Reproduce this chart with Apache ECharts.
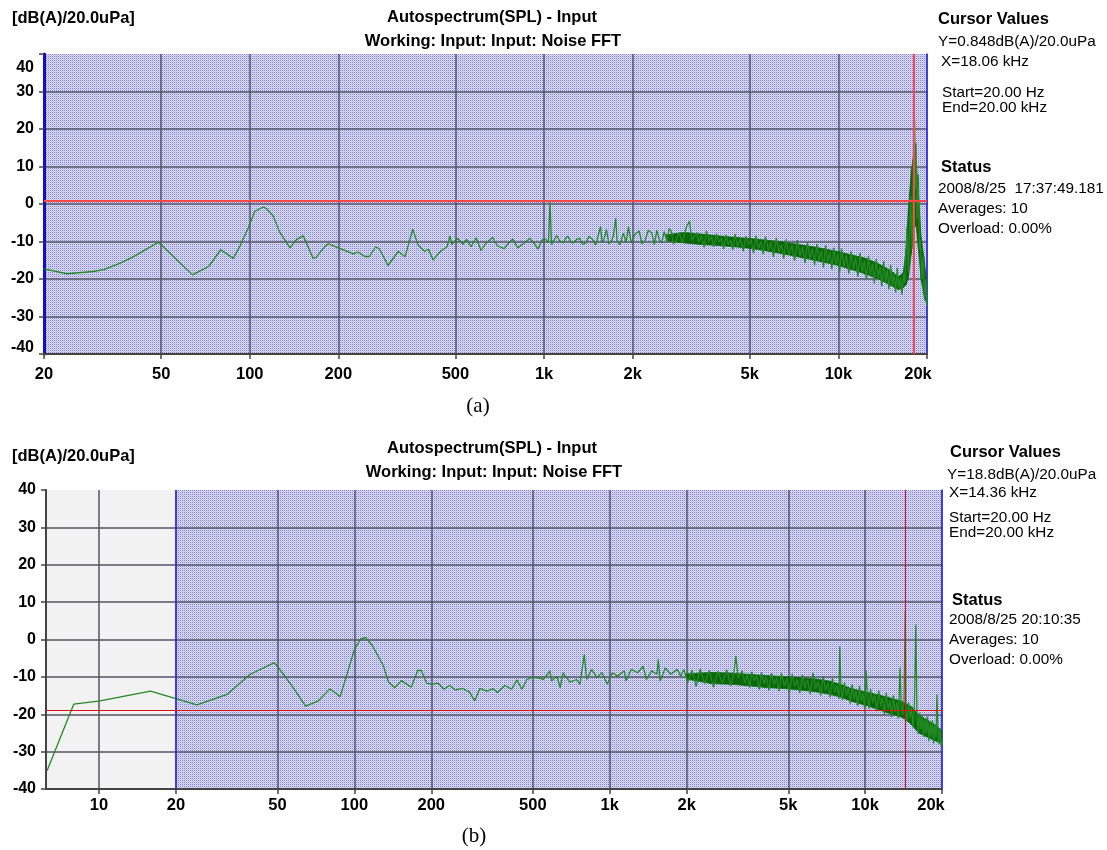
<!DOCTYPE html>
<html>
<head>
<meta charset="utf-8">
<script src="https://cdn.jsdelivr.net/npm/echarts@6/dist/echarts.min.js"></script>
<style>
  html, body { margin: 0; padding: 0; background: #fff; }
  #chart { width: 1107px; height: 850px; }
</style>
</head>
<body>
<div id="chart"></div>
<script>
// axis ticks
var tickFreqA = [20, 50, 100, 200, 500, 1000, 2000, 5000, 10000, 20000];
var tickTextA = ['20', '50', '100', '200', '500', '1k', '2k', '5k', '10k', '20k'];
var tickFreqB = [10, 20, 50, 100, 200, 500, 1000, 2000, 5000, 10000, 20000];
var tickTextB = ['10', '20', '50', '100', '200', '500', '1k', '2k', '5k', '10k', '20k'];

// cursors [Hz, dB]
var cursorA = [18060, 0.848];
var cursorB = [14360, -19.0];

var unitText = '[dB(A)/20.0uPa]';
var titleLines = ['Autospectrum(SPL) - Input', 'Working: Input: Input: Noise FFT'];
var infoA = ['Cursor Values', 'Y=0.848dB(A)/20.0uPa', 'X=18.06 kHz', 'Start=20.00 Hz', 'End=20.00 kHz',
  'Status', '2008/8/25  17:37:49.181', 'Averages: 10', 'Overload: 0.00%'];
var infoB = ['Cursor Values', 'Y=18.8dB(A)/20.0uPa', 'X=14.36 kHz', 'Start=20.00 Hz', 'End=20.00 kHz',
  'Status', '2008/8/25 20:10:35', 'Averages: 10', 'Overload: 0.00%'];

// (a) spectrum trace [Hz, dB]
var traceA = [
  [20, -17.3], [23.9, -18.6], [29.4, -18.0], [31.9, -17.5], [36, -15.9], [40.2, -14.1], [44, -12.3], [49, -10.2],
  [64, -18.9], [72.7, -16.6], [79.7, -12.2], [87.9, -14.5], [92.6, -11.3], [98.8, -6.4], [104, -2.0], [111, -0.8],
  [114, -1.2], [120, -3.1], [126, -7.3], [137, -11.7], [144, -9.5], [152, -8.5], [164, -14.4], [168, -14.3],
  [180, -11.3], [185, -10.6], [200, -11.7], [225, -13.3], [233, -12.8], [246, -14.0], [255, -14.0], [268, -11.4],
  [276, -12.0], [295, -16.4], [320, -12.6], [337, -14.1], [358, -6.7], [373, -10.9], [393, -12.6], [405, -12.1],
  [420, -14.9], [445, -12.6], [468, -11.4], [479, -8.5], [486, -10.8], [497, -9.9], [510, -9.2], [530, -10.8],
  [545, -9.4], [565, -11.4], [588, -9.0], [611, -12.4], [632, -10.6], [668, -8.9], [695, -11.2], [733, -11.9],
  [758, -10.4], [782, -9.3], [814, -11.7], [850, -10.6], [895, -9.1], [922, -10.4], [955, -12.0], [985, -9.6],
  [1010, -9.4], [1035, -10.2], [1048, 0.6], [1060, -10.8], [1082, -9.6], [1104, -8.4], [1130, -9.8], [1164, -10.4],
  [1185, -9.0], [1206, -8.6], [1230, -9.9], [1254, -10.4], [1288, -9.5], [1320, -9.1], [1350, -10.8], [1389, -10.4],
  [1420, -8.6], [1462, -9.5], [1500, -10.9], [1530, -8.2], [1556, -6.0], [1575, -10.4], [1600, -9.2], [1630, -6.8],
  [1660, -10.6], [1695, -9.9], [1720, -8.4], [1752, -3.8], [1770, -9.9], [1810, -10.8], [1860, -7.8], [1900, -10.2],
  [1935, -6.0], [1978, -10.4], [2040, -8.0], [2105, -7.2], [2150, -10.6], [2210, -9.5], [2260, -7.0], [2325, -7.8],
  [2370, -10.9], [2415, -7.0], [2460, -9.4], [2510, -10.4], [2560, -7.4], [2620, -9.9], [2660, -6.6], [2705, -7.2],
  [2750, -10.6], [2810, -9.9], [2870, -7.5], [2950, -10.2], [3050, -6.0], [3120, -4.6], [3180, -9.8], [3300, -7.6],
  [3360, -10.1], [3420, -8.4], [3500, -11.6], [3560, -7.2], [3640, -9.9], [3700, -8.6], [3780, -11.4], [3850, -7.9],
  [3930, -10.2], [4000, -9.1], [4080, -12.0], [4150, -8.2], [4230, -10.8], [4300, -9.6], [4380, -12.2], [4450, -8.0],
  [4550, -11.3], [4650, -9.2], [4750, -12.6], [4850, -8.6], [4950, -10.9], [5050, -9.5], [5150, -13.1], [5250, -8.4],
  [5350, -11.9], [5450, -10.0], [5550, -13.4], [5650, -8.7], [5780, -12.3], [5900, -10.2], [6020, -14.1], [6150, -9.0],
  [6280, -12.8], [6400, -10.8], [6520, -14.6], [6650, -9.4], [6800, -13.5], [6950, -11.0], [7100, -15.2], [7250, -9.6],
  [7400, -13.9], [7550, -11.4], [7700, -15.8], [7850, -10.2], [8000, -14.6], [8150, -11.9], [8300, -16.4], [8450, -10.6],
  [8600, -15.1], [8750, -12.5], [8900, -17.0], [9050, -11.0], [9200, -15.5], [9350, -12.8], [9500, -17.4], [9650, -11.6],
  [9800, -16.2], [9950, -13.2], [10100, -18.2], [10250, -11.9], [10450, -16.8], [10650, -13.6], [10850, -18.6],
  [11050, -12.6], [11250, -17.5], [11450, -14.2], [11650, -19.4], [11850, -13.0], [12050, -18.3], [12250, -15.0],
  [12450, -20.2], [12650, -13.8], [12850, -19.0], [13050, -15.8], [13250, -21.2], [13450, -14.6], [13650, -20.0],
  [13850, -16.6], [14050, -22.0], [14250, -15.2], [14450, -21.0], [14650, -17.4], [14850, -22.8], [15050, -16.2],
  [15250, -21.8], [15450, -18.4], [15650, -23.6], [15850, -17.0], [16050, -22.6], [16250, -19.8], [16450, -24.2],
  [16650, -18.6], [16800, -21.0], [17100, -6.0], [17300, -18.0], [17600, 2.0], [17800, -12.0], [18000, 13.0],
  [18150, 22.5], [18250, 4.0], [18350, 16.2], [18500, -4.0], [18700, 7.8], [18850, -12.0], [19000, -9.5],
  [19200, -20.0], [19400, -14.0], [19600, -25.5], [19800, -20.0], [20000, -27.3]
];
// (a) dense noise band [Hz, low dB, high dB]
var bandA = [
  [2600, -9.8, -8.2], [3000, -10.4, -7.6], [3400, -10.8, -8.0], [3800, -11.0, -8.4], [4300, -11.3, -8.8],
  [5000, -11.8, -9.2], [5600, -12.4, -9.6], [6300, -13.1, -10.0], [7200, -14.0, -10.7], [8200, -14.9, -11.4],
  [9000, -15.6, -12.0], [10000, -16.4, -12.7], [11000, -17.4, -13.5], [12300, -18.6, -14.4], [13500, -19.8, -15.7],
  [14500, -21.0, -17.0], [15300, -22.0, -18.2], [16000, -22.8, -19.4], [16600, -22.4, -18.4], [17000, -21.5, -12.0],
  [17300, -19.5, -1.0], [17700, -13.0, 9.0], [18000, -6.0, 13.0], [18400, -6.0, 11.0], [18700, -12.0, 3.0],
  [19100, -20.0, -9.0], [19500, -24.0, -14.0], [20000, -27.0, -21.5]
];

// (b) spectrum trace [Hz, dB]
var traceB = [
  [6.26, -35.1], [7.96, -17.3], [10.1, -16.4], [15.9, -13.8], [20, -15.8], [24.2, -17.5], [31.7, -14.7], [39.1, -9.3],
  [48.6, -6.2], [52.8, -9.3], [57.6, -12.9], [64.4, -17.8], [72.3, -16.4], [80.2, -13.2], [88, -15.3], [100, -2.7],
  [106, 0.2], [111, 0.5], [118, -1.8], [130, -7.1], [136, -11.4], [144, -12.9], [153, -11.0], [167, -12.8],
  [177, -8.3], [183, -8.3], [192, -11.7], [201, -12.0], [213, -11.7], [224, -13.3], [236, -12.3], [249, -13.5],
  [265, -13.1], [282, -14.0], [296, -16.4], [310, -13.1], [330, -13.8], [349, -13.2], [363, -14.2], [389, -12.3],
  [413, -13.3], [433, -10.8], [453, -13.3], [474, -10.7], [495, -10.2], [519, -10.2], [550, -10.7], [583, -8.4],
  [592, -11.1], [621, -9.8], [640, -12.9], [656, -8.9], [698, -11.4], [742, -10.7], [764, -12.0], [795, -4.0],
  [812, -10.7], [850, -8.0], [891, -10.2], [933, -8.9], [977, -12.0], [1024, -8.9], [1073, -9.8], [1140, -8.4],
  [1158, -11.1], [1213, -8.0], [1288, -8.9], [1350, -7.1], [1392, -10.7], [1459, -8.4], [1530, -9.3], [1550, -5.3],
  [1574, -11.1], [1650, -7.6], [1730, -9.3], [1839, -8.0], [1897, -9.8], [1950, -8.0], [2020, -11.5], [2100, -8.2],
  [2180, -12.6], [2260, -7.9], [2350, -11.8], [2450, -8.3], [2550, -12.8], [2650, -8.5], [2760, -11.6], [2870, -8.1],
  [2980, -12.4], [3060, -9.0], [3120, -4.4], [3180, -10.2], [3300, -8.4], [3380, -11.6], [3450, -9.2], [3530, -12.9],
  [3600, -8.6], [3680, -11.0], [3760, -9.6], [3850, -13.4], [3930, -8.8], [4020, -11.9], [4100, -10.0], [4200, -13.6],
  [4300, -9.0], [4400, -12.2], [4500, -10.2], [4600, -13.8], [4700, -8.9], [4820, -12.4], [4940, -10.4], [5060, -14.0],
  [5180, -9.2], [5300, -12.6], [5420, -10.6], [5550, -14.3], [5680, -9.4], [5800, -12.9], [5950, -10.8], [6100, -14.6],
  [6250, -8.9], [6400, -13.2], [6550, -11.2], [6700, -15.0], [6850, -9.8], [7000, -13.6], [7150, -11.6], [7300, -15.5],
  [7450, -10.3], [7600, -14.2], [7750, -12.2], [7900, -15.9], [7960, -1.8], [8030, -12.0], [8150, -16.2], [8300, -11.4],
  [8450, -15.1], [8600, -12.8], [8750, -17.2], [8900, -11.9], [9050, -16.0], [9200, -13.6], [9350, -17.8], [9500, -12.4],
  [9650, -16.6], [9800, -14.2], [9950, -18.3], [10100, -8.4], [10200, -15.0], [10350, -18.6], [10500, -13.2],
  [10700, -17.0], [10900, -14.8], [11100, -19.2], [11300, -13.6], [11500, -17.8], [11700, -15.4], [11900, -20.0],
  [12100, -14.2], [12300, -18.6], [12500, -16.2], [12700, -20.8], [12900, -14.9], [13100, -19.4], [13300, -16.8],
  [13500, -21.2], [13700, -7.5], [13850, -17.6], [14000, -20.2], [14200, -16.4], [14360, 7.6], [14450, -18.5],
  [14600, -22.0], [14800, -16.8], [15000, -21.0], [15200, -18.0], [15400, -23.5], [15600, -17.6], [15800, 4.0],
  [15950, -19.0], [16150, -25.2], [16350, -19.6], [16550, -24.0], [16750, -20.4], [16950, -26.0], [17150, -21.0],
  [17350, -25.0], [17550, -20.6], [17750, -27.2], [17950, -22.0], [18150, -26.0], [18350, -21.6], [18550, -27.8],
  [18750, -22.6], [18950, -26.4], [19100, -14.7], [19250, -23.0], [19450, -28.0], [19650, -24.0], [19850, -28.6],
  [20000, -27.0]
];
// (b) dense noise band [Hz, low dB, high dB]
var bandB = [
  [2000, -10.6, -9.2], [2500, -11.8, -8.8], [3000, -12.0, -9.0], [3500, -12.4, -9.3], [4000, -12.8, -9.6],
  [5000, -13.2, -10.0], [6300, -13.9, -10.5], [7200, -14.6, -11.1], [8000, -15.4, -12.0], [8900, -16.6, -13.2],
  [10300, -17.8, -14.2], [12200, -19.6, -15.4], [13700, -20.6, -16.4], [14400, -21.4, -17.1], [15200, -22.8, -18.0],
  [16200, -25.0, -20.2], [18400, -26.8, -22.4], [20000, -27.8, -24.4]
];

var FONT = "'Liberation Sans', Arial, Helvetica, sans-serif";
var GREEN = '#238a23';
var BAND = '#0a670a';
var GRIDLINE = '#555566';

// dotted blue fill like the analyser screen
var dots = document.createElement('canvas');
dots.width = 2; dots.height = 2;
(function () {
  var g = dots.getContext('2d');
  g.fillStyle = '#e2e2fa'; g.fillRect(0, 0, 2, 2);
  g.fillStyle = '#7a7ae8'; g.fillRect(0, 0, 1, 1);
  g.fillStyle = '#bcbcf2'; g.fillRect(1, 1, 1, 1);
})();
var dotFill = { image: dots, repeat: 'repeat' };

function zoneItem(params, api) {
  var a = api.coord([api.value(0), api.value(1)]);
  var b = api.coord([api.value(2), api.value(3)]);
  return {
    type: 'rect', silent: true,
    shape: { x: a[0], y: a[1], width: b[0] - a[0], height: b[1] - a[1] },
    style: { fill: dotFill }
  };
}

function bandItem(band) {
  return function (params, api) {
    var i = params.dataIndex;
    if (i >= band.length - 1) return null;
    var p = band[i], q = band[i + 1];
    return {
      type: 'polygon', silent: true,
      shape: { points: [api.coord([p[0], p[2]]), api.coord([q[0], q[2]]), api.coord([q[0], q[1]]), api.coord([p[0], p[1]])] },
      style: { fill: BAND, stroke: BAND, lineWidth: 0.8 }
    };
  };
}

function freqAxis(gi, min, ticks, names, margin, lastPad) {
  return {
    type: 'log', logBase: 10, gridIndex: gi, min: min, max: 20000, z: 1,
    axisLine: { onZero: false, lineStyle: { color: '#444', width: 2 } },
    axisTick: { customValues: ticks, length: 5, lineStyle: { color: '#444', width: 1.5 } },
    minorTick: { show: false },
    splitLine: { show: true, lineStyle: { color: GRIDLINE, width: 1.5 } },
    axisLabel: {
      customValues: ticks, margin: margin, color: '#000',
      fontFamily: FONT, fontWeight: 'bold', fontSize: 16.5,
      formatter: function (v) {
        for (var i = 0; i < ticks.length; i++) {
          if (Math.abs(Math.log10(v) - Math.log10(ticks[i])) < 1e-6) {
            return i === ticks.length - 1 ? '{last|' + names[i] + '}' : names[i];
          }
        }
        return '';
      },
      rich: { last: { fontFamily: FONT, fontWeight: 'bold', fontSize: 16.5, color: '#000', padding: [0, lastPad, 0, 0] } }
    }
  };
}

function levelAxis(gi, lineColor, lineWidth, shiftEnds) {
  var lab = { fontFamily: FONT, fontWeight: 'bold', fontSize: 16, color: '#000' };
  return {
    type: 'value', gridIndex: gi, min: -40, max: 40, interval: 10, z: 1,
    axisLine: { show: true, onZero: false, lineStyle: { color: lineColor, width: lineWidth } },
    axisTick: { show: true, length: 5, lineStyle: { color: '#444', width: 1.5 } },
    splitLine: { show: true, showMaxLine: false, showMinLine: false, lineStyle: { color: GRIDLINE, width: 1.5 } },
    axisLabel: {
      margin: 10, color: '#000', fontFamily: FONT, fontWeight: 'bold', fontSize: 16,
      formatter: function (v) {
        if (shiftEnds && v === 40) return '{hi|' + v + '}';
        if (shiftEnds && v === -40) return '{lo|' + v + '}';
        return '' + v;
      },
      rich: {
        hi: Object.assign({ padding: [28, 0, 0, 0] }, lab),
        lo: Object.assign({ padding: [0, 0, 12, 0] }, lab)
      }
    }
  };
}

function borderAxis(gi) {
  return {
    type: 'value', gridIndex: gi, position: 'right', min: -40, max: 40, z: 1,
    axisLine: { show: true, lineStyle: { color: '#2a2aff', width: 1.5 } },
    axisTick: { show: false }, axisLabel: { show: false }, splitLine: { show: false }
  };
}

function cursorLines(c, color, width) {
  return {
    symbol: 'none', silent: true, animation: false,
    label: { show: false },
    lineStyle: { color: color, width: width, type: 'solid' },
    data: [{ xAxis: c[0] }, { yAxis: c[1] }]
  };
}

// texts
var graphics = [];
function txt(x, y, s, font, align) {
  graphics.push({
    type: 'text', x: x, y: y, silent: true,
    style: { text: s, font: font, fill: '#000', align: align || 'left', verticalAlign: 'middle' }
  });
}
var BOLD = 'bold 16.5px ' + FONT;
var REG = '15.3px ' + FONT;
var SERIF = "21px 'Liberation Serif', 'Times New Roman', serif";

txt(12, 18, unitText, BOLD);
txt(492, 17, titleLines[0], BOLD, 'center');
txt(493, 41, titleLines[1], BOLD, 'center');
var infoAx = [938, 938, 941, 942, 942, 941, 938, 938, 938];
var infoAy = [19, 42, 62, 93, 108, 167, 189, 209, 229];
infoA.forEach(function (s, i) { txt(infoAx[i], infoAy[i], s, (i === 0 || i === 5) ? BOLD : REG); });
txt(478, 406, '(a)', SERIF, 'center');

txt(12, 456, unitText, BOLD);
txt(492, 448, titleLines[0], BOLD, 'center');
txt(494, 472, titleLines[1], BOLD, 'center');
var infoBx = [950, 947, 949, 949, 949, 952, 949, 949, 949];
var infoBy = [452, 475, 493, 518, 533, 600, 620, 640, 660];
infoB.forEach(function (s, i) { txt(infoBx[i], infoBy[i], s, (i === 0 || i === 5) ? BOLD : REG); });
txt(474, 836, '(b)', SERIF, 'center');

var chart = echarts.init(document.getElementById('chart'), null, { renderer: 'canvas' });
chart.setOption({
  animation: false,
  backgroundColor: '#ffffff',
  grid: [
    { left: 44, top: 54, width: 883, height: 300, show: true, backgroundColor: '#ffffff', borderWidth: 0 },
    { left: 46, top: 490, width: 896, height: 299, show: true, backgroundColor: '#f2f2f2', borderWidth: 0 }
  ],
  xAxis: [
    freqAxis(0, 20, tickFreqA, tickTextA, 12, 18),
    freqAxis(1, 6.2, tickFreqB, tickTextB, 8, 22)
  ],
  yAxis: [
    levelAxis(0, '#1010c8', 3, true),
    borderAxis(0),
    levelAxis(1, '#444', 2, false),
    borderAxis(1)
  ],
  graphic: graphics,
  series: [
    {
      type: 'custom', name: 'zoneA', xAxisIndex: 0, yAxisIndex: 0, z: 0, silent: true,
      renderItem: zoneItem, data: [[20, 40, 20000, -40]], encode: { x: [0, 2], y: [1, 3] }
    },
    {
      type: 'custom', name: 'bandA', xAxisIndex: 0, yAxisIndex: 0, z: 2, silent: true, clip: true,
      renderItem: bandItem(bandA), data: bandA, encode: { x: 0, y: [1, 2] }
    },
    {
      type: 'line', name: 'traceA', xAxisIndex: 0, yAxisIndex: 0, z: 3, data: traceA,
      symbol: 'none', clip: true, lineStyle: { color: GREEN, width: 1.3 },
      markLine: cursorLines(cursorA, '#ff4545', 2)
    },
    {
      type: 'custom', name: 'zoneB', xAxisIndex: 1, yAxisIndex: 2, z: 0, silent: true,
      renderItem: zoneItem, data: [[20, 40, 20000, -40]], encode: { x: [0, 2], y: [1, 3] },
      markLine: {
        symbol: 'none', silent: true, label: { show: false },
        lineStyle: { color: '#2a2aff', width: 1.5, type: 'solid' }, data: [{ xAxis: 20 }]
      }
    },
    {
      type: 'custom', name: 'bandB', xAxisIndex: 1, yAxisIndex: 2, z: 2, silent: true, clip: true,
      renderItem: bandItem(bandB), data: bandB, encode: { x: 0, y: [1, 2] }
    },
    {
      type: 'line', name: 'traceB', xAxisIndex: 1, yAxisIndex: 2, z: 3, data: traceB,
      symbol: 'none', clip: true, lineStyle: { color: GREEN, width: 1.3 },
      markLine: cursorLines(cursorB, '#e01010', 1)
    }
  ]
});
</script>
</body>
</html>
